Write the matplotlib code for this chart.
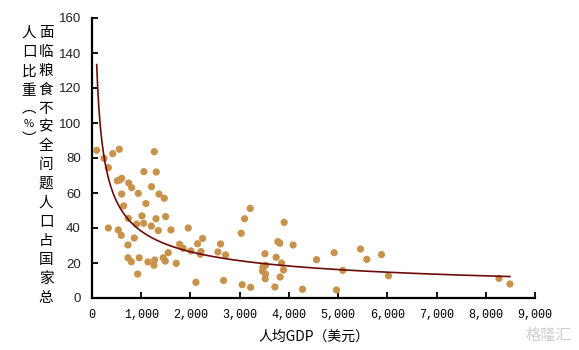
import matplotlib.pyplot as plt
import numpy as np

plt.rcParams['font.family'] = ['Noto Sans CJK SC', 'DejaVu Sans']
plt.rcParams['axes.unicode_minus'] = False

# 人均GDP（美元）
gdp = [95, 244, 332, 420, 555, 1265, 1055, 1305, 514, 603, 560, 745, 806, 1210,
       603, 940, 1360, 1468, 1096, 643, 737, 1015, 1300, 1496, 907, 1049, 1204,
       1346, 1604, 1955, 332, 534, 595, 859, 731, 1780, 1853, 1549, 2010, 731,
       798, 960, 1137, 1273, 1259, 1447, 1488, 1711, 928, 2111,
       3214, 3100, 3031, 3904, 2145, 2247, 2612, 2213, 2198, 2558, 2714, 3776,
       3816, 4086, 3512, 3741, 3850, 3471, 3525, 3465, 3526, 3519, 3891, 3822,
       2673, 3051, 3222, 3715, 4277,
       4561, 4919, 5095, 4967, 5455, 5583, 5881, 6023,
       8268, 8491]
# 面临粮食不安全问题人口占国家总人口比重（%）
share = [84.4, 79.8, 74.5, 82.5, 85, 83.6, 72.2, 72, 67, 68.4, 67.4, 65.7, 63,
         63.6, 59.4, 59.8, 59.4, 57, 54, 52.6, 45.5, 46.9, 45.3, 46.5, 42.3,
         42.7, 41.1, 38.5, 38.9, 40, 40, 38.9, 35.8, 34.3, 30.3, 30.7, 28.4,
         25.9, 26.9, 23, 20.7, 23, 20.6, 21.7, 18.7, 23, 21.1, 19.8, 13.7, 9,
         51.2, 45.3, 37, 43.2, 31, 34, 30.9, 26.5, 25, 26.3, 24.6, 32.2,
         31.3, 30.3, 25.3, 23.3, 20, 17.7, 18.7, 15.4, 13.7, 11, 16, 12,
         10, 7.6, 6.1, 6.3, 5,
         21.9, 25.9, 15.8, 4.6, 28, 22.1, 24.8, 12.7,
         11.2, 8]

x_ticks = [0, 1000, 2000, 3000, 4000, 5000, 6000, 7000, 8000, 9000]
y_ticks = [0, 20, 40, 60, 80, 100, 120, 140, 160]

ylabel_right = "面临粮食不安全问题人口占国家总"
ylabel_left = "人口比重︵%︶"

W, H = 579, 350
fig = plt.figure(figsize=(W / 100, H / 100), dpi=100)
ax = fig.add_axes([92 / W, 1 - 298 / H, (535 - 92) / W, (298 - 18) / H])

ax.scatter(gdp, share, s=27, color='#C8924A', edgecolors='none', zorder=3)

# 幂函数趋势线（对数-对数最小二乘）
gx = np.array(gdp, dtype=float)
gy = np.array(share, dtype=float)
b, loga = np.polyfit(np.log(gx), np.log(gy), 1)
xs = np.linspace(gx.min(), gx.max(), 400)
ax.plot(xs, np.exp(loga) * xs ** b, color='#6E0A0A', lw=1.2, zorder=4)

ax.set_xlim(0, 9000)
ax.set_ylim(0, 160)
ax.set_xticks(x_ticks)
ax.set_xticklabels([f'{v:,}' for v in x_ticks], family='Liberation Mono', fontsize=8.5)
ax.set_yticks(y_ticks)
ax.set_yticklabels([str(v) for v in y_ticks], family='Liberation Sans', fontsize=9.5,
                   color='#222222')
ax.tick_params(direction='in', length=4, width=1.3, pad=8)
for s in ['top', 'right']:
    ax.spines[s].set_visible(False)
for s in ['left', 'bottom']:
    ax.spines[s].set_linewidth(1.6)

ax.set_xlabel('人均GDP（美元）', fontsize=10, labelpad=6)

# 竖排 y 轴标题
step = 18.9
for i, ch in enumerate(ylabel_right):
    fig.text(46 / W, 1 - (33 + i * step) / H, ch, ha='center', va='center', fontsize=10.5)
left_pos = [33, 52, 72, 91, 108, 124, 139]
for ch, py in zip(ylabel_left, left_pos):
    fig.text(29 / W, 1 - py / H, ch, ha='center', va='center',
             fontsize=10.5 if ch != '%' else 8)

fig.text(548 / W, 1 - 335 / H, '格隆汇', ha='center', va='center', fontsize=11,
         color='#cfcfcf')

fig.savefig('out.png', dpi=100)
